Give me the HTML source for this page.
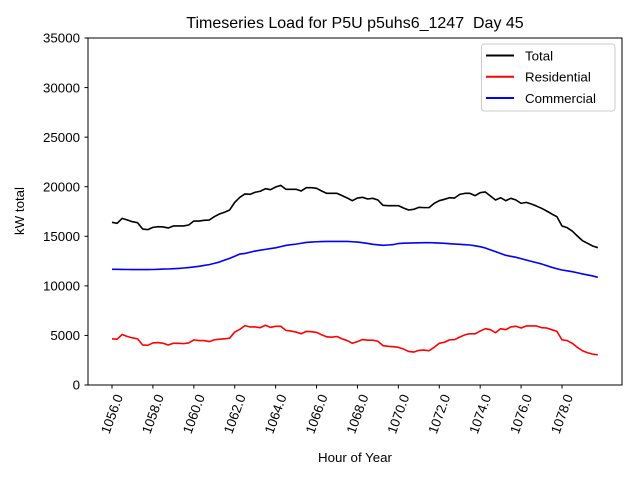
<!DOCTYPE html>
<html><head><meta charset="utf-8"><style>
body{margin:0;background:#fff;}
svg text{font-family:"Liberation Sans","DejaVu Sans",sans-serif;fill:#000;}
</style></head><body>
<svg id="chart" width="640" height="480" viewBox="0 0 640 480" xmlns="http://www.w3.org/2000/svg">
<rect width="640" height="480" fill="#fff"/>
<text x="355" y="28" font-size="16" text-anchor="middle" style="white-space:pre">Timeseries Load for P5U p5uhs6_1247  Day 45</text>
<g id="plot"></g>
<rect x="88" y="38" width="534" height="347" fill="none" stroke="#000" stroke-width="1"/>
<text x="355" y="462" font-size="13.3" text-anchor="middle">Hour of Year</text>
<text x="0" y="0" font-size="13.3" text-anchor="middle" transform="translate(24,211) rotate(-90)">kW total</text>
<g>
<rect x="481.5" y="44" width="133.5" height="67" rx="3" fill="#fff" fill-opacity="0.8" stroke="#ccc" stroke-width="1"/>
<line x1="486" y1="55.5" x2="514" y2="55.5" stroke="#000" stroke-width="2"/>
<text x="525" y="60.5" font-size="13.3">Total</text>
<line x1="486" y1="76.7" x2="514" y2="76.7" stroke="#ff0000" stroke-width="2"/>
<text x="525" y="81.7" font-size="13.3">Residential</text>
<line x1="486" y1="98" x2="514" y2="98" stroke="#0000ff" stroke-width="2"/>
<text x="525" y="103" font-size="13.3">Commercial</text>
</g>
</svg>
<script>
const startHour = 1056;
const stepHours = 0.25;
const totalLoad = [16410,16310,16810,16640,16470,16370,15730,15670,15900,15970,15940,15840,16040,16040,16040,16140,16540,16540,16610,16640,16980,17250,17420,17650,18420,18930,19270,19230,19440,19540,19800,19700,19970,20140,19740,19740,19740,19570,19900,19900,19840,19570,19330,19330,19330,19100,18860,18590,18860,18930,18760,
18830,18660,18120,18090,18090,18090,17850,17650,17720,17920,17890,17890,18320,18590,18730,18890,18860,19230,19330,19330,19100,19400,19470,19060,18660,18890,18590,18830,18660,18320,18420,18260,18050,17820,17550,17250,16980,16040,15870,15530,15030,14560,14290,14020,13850];
const residentialLoad = [4654,4620,5099,4893,4757,4654,4037,4003,4243,4277,4208,4037,4208,4208,4174,4243,4551,4482,4482,4380,4551,4620,4654,4722,5339,5613,5989,5852,5852,5784,6024,5818,5921,5921,5510,5442,5339,5167,5407,5373,5305,5064,4860,4825,4893,4654,4482,4208,4380,4585,4517,4517,4414,3969,3900,3866,3798,3626,3386,3318,3489,3523,3455,3798,4208,4311,4551,4585,4825,5064,5167,5167,5442,5681,5579,5270,5681,5579,5852,5921,5749,5955,5955,5955,5784,5749,5579,5407,4551,4482,4208,3798,3455,3250,3113,3044];
const commercialLoad = [11670,11670,11660,11650,11640,11640,11640,11640,11650,11670,11690,11700,11730,11760,11800,11850,11910,11970,12060,12140,12270,12400,12590,12770,12990,13210,13270,13390,13510,13600,13680,13760,13840,13960,14080,14150,14210,14300,14380,14420,14450,14470,14480,14480,14480,14480,14480,14450,14420,14350,14280,
14190,14140,14090,14120,14160,14270,14300,14320,14330,14340,14350,14360,14340,14320,14290,14250,14220,14190,14150,14120,14040,13950,13820,13630,13450,13260,13080,12980,12880,12750,12610,12470,12340,12210,12040,11870,11730,11600,11520,11430,11320,11200,11100,11000,10860];
const xTicks = [1056,1058,1060,1062,1064,1066,1068,1070,1072,1074,1076,1078];
const xTickLabels = ["1056.0","1058.0","1060.0","1062.0","1064.0","1066.0","1068.0","1070.0","1072.0","1074.0","1076.0","1078.0"];
const yTicks = [0,5000,10000,15000,20000,25000,30000,35000];
const yTickLabels = ["0","5000","10000","15000","20000","25000","30000","35000"];

const NS = "http://www.w3.org/2000/svg";
const xScale = h => 112 + (h - 1056) * (450 / 22);
const yScale = v => 385 - v * (347 / 35000);
const plot = document.getElementById('plot');
function mk(tag, attrs){const e=document.createElementNS(NS,tag);for(const k in attrs)e.setAttribute(k,attrs[k]);return e;}

xTicks.forEach((t,i)=>{
  const x = xScale(t);
  const tk = mk('line',{x1:x,y1:385,x2:x,y2:388.5,stroke:'#000','stroke-width':1});
  
  
  plot.appendChild(tk);
  const lb = mk('text',{x:x,y:414,'font-size':13.3,'text-anchor':'middle','dominant-baseline':'central',transform:`rotate(-70 ${x} 414)`});
  lb.textContent = xTickLabels[i];
  
  
  plot.appendChild(lb);
});
yTicks.forEach((t,i)=>{
  const y = yScale(t);
  const tk = mk('line',{x1:84.5,y1:y,x2:88,y2:y,stroke:'#000','stroke-width':1});
  
  
  plot.appendChild(tk);
  const lb = mk('text',{x:80,y:y+4.7,'font-size':13.3,'text-anchor':'end'});
  lb.textContent = yTickLabels[i];
  
  
  plot.appendChild(lb);
});
function series(vals,color,name){
  const pts = vals.map((v,i)=>xScale(startHour+i*stepHours).toFixed(2)+','+yScale(v).toFixed(2)).join(' ');
  const pl = mk('polyline',{points:pts,fill:'none',stroke:color,'stroke-width':1.6,'stroke-linejoin':'round'});
  
  
  plot.appendChild(pl);
}
series(totalLoad,'#000000','total-line');
series(residentialLoad,'#ff0000','residential-line');
series(commercialLoad,'#0000ff','commercial-line');
</script>
</body></html>
